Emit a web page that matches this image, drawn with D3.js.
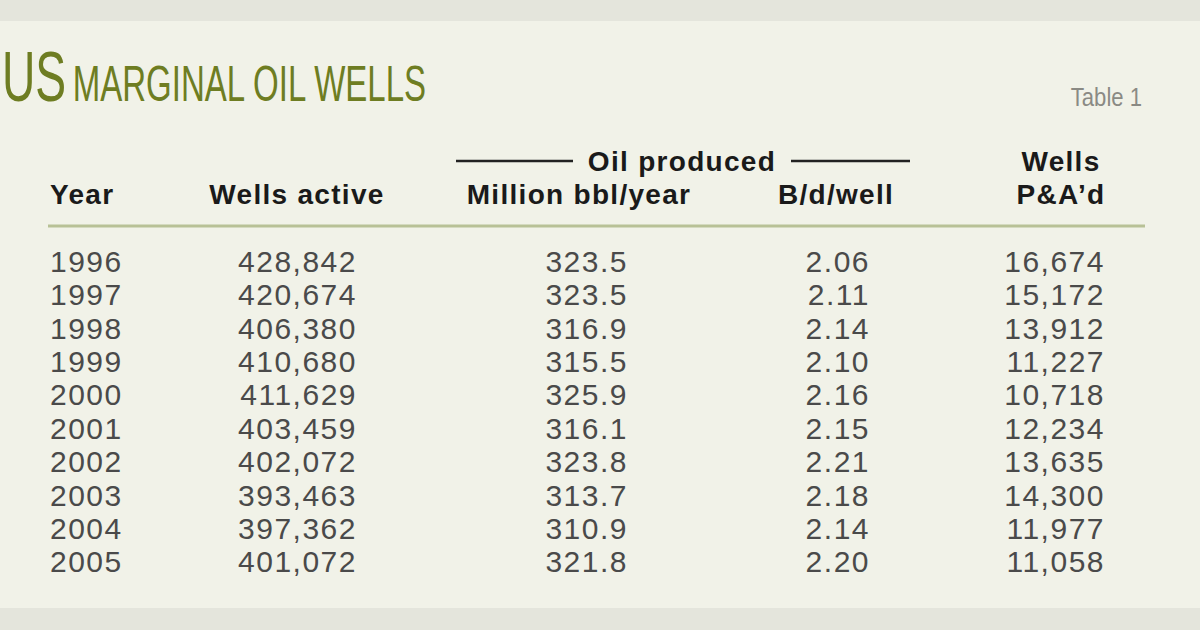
<!DOCTYPE html>
<html><head><meta charset="utf-8">
<script src="https://cdn.jsdelivr.net/npm/d3@7"></script>
<style>body{margin:0;background:#e4e5dc}</style>
</head><body>
<script>
const years = ["1996","1997","1998","1999","2000","2001","2002","2003","2004","2005"];
const wellsActive = ["428,842","420,674","406,380","410,680","411,629","403,459","402,072","393,463","397,362","401,072"];
const millionBbl = ["323.5","323.5","316.9","315.5","325.9","316.1","323.8","313.7","310.9","321.8"];
const bblPerWell = ["2.06","2.11","2.14","2.10","2.16","2.15","2.21","2.18","2.14","2.20"];
const wellsPA = ["16,674","15,172","13,912","11,227","10,718","12,234","13,635","14,300","11,977","11,058"];

const width = 1200, height = 630;
const svg = d3.select("body").append("svg")
	.attr("width", width).attr("height", height)
	.attr("font-family", "'Liberation Sans', Arial, sans-serif");

svg.append("rect").attr("width", width).attr("height", height).attr("fill", "#e4e5dc");
svg.append("rect").attr("x", 0).attr("y", 21).attr("width", width).attr("height", 587).attr("fill", "#f1f2e8");

// title
const title = svg.append("text").attr("x", 2).attr("y", 101)
	.attr("fill", "#6e7d22")
	.attr("font-family", "'Liberation Sans Narrow', 'Liberation Sans', sans-serif")
	.attr("transform", "translate(2,0) scale(0.66,1) translate(-2,0)");
title.append("tspan").attr("font-size", 70).text("US");
title.append("tspan").attr("font-size", 50).attr("dx", 10).text("MARGINAL OIL WELLS");

svg.append("text").attr("x", 1142).attr("y", 106).attr("text-anchor", "end")
	.attr("font-size", 26).attr("fill", "#8a8a84")
	.attr("font-family", "'Liberation Sans Narrow', 'Liberation Sans', sans-serif")
	.attr("transform", "translate(1142,0) scale(0.85,1) translate(-1142,0)")
	.text("Table 1");

// columns
const cols = [
	{ x: 50, anchor: "start", values: years },
	{ x: 357, anchor: "end", values: wellsActive },
	{ x: 628, anchor: "end", values: millionBbl },
	{ x: 870, anchor: "end", values: bblPerWell },
	{ x: 1105, anchor: "end", values: wellsPA },
];

// headers
const head = svg.append("g").attr("font-weight", "bold").attr("font-size", 28)
	.attr("letter-spacing", 1.3).attr("fill", "#1a1a1a");
head.append("text").attr("x", 50).attr("y", 204).text("Year");
head.append("text").attr("x", 297).attr("y", 204).attr("text-anchor", "middle").text("Wells active");
head.append("text").attr("x", 579).attr("y", 204).attr("text-anchor", "middle").text("Million bbl/year");
head.append("text").attr("x", 836).attr("y", 204).attr("text-anchor", "middle").text("B/d/well");
head.append("text").attr("x", 1061).attr("y", 171).attr("text-anchor", "middle").text("Wells");
head.append("text").attr("x", 1061).attr("y", 204).attr("text-anchor", "middle").text("P&A’d");
head.append("text").attr("x", 682).attr("y", 171).attr("text-anchor", "middle").text("Oil produced");
[[456, 573], [791, 910]].forEach(([a, b]) =>
	svg.append("line").attr("x1", a).attr("x2", b).attr("y1", 161).attr("y2", 161)
		.attr("stroke", "#222").attr("stroke-width", 2.5));

svg.append("line").attr("x1", 48).attr("x2", 1145).attr("y1", 226).attr("y2", 226)
	.attr("stroke", "#b8c196").attr("stroke-width", 3);

// body rows
const y = d3.scaleBand().domain(years).range([244, 578]);
const body = svg.append("g").attr("font-size", 30).attr("letter-spacing", 1.5).attr("fill", "#4a4a4a");
cols.forEach(c => {
	body.selectAll(null).data(c.values).join("text")
		.attr("x", c.x)
		.attr("y", (d, i) => y(years[i]) + y.bandwidth() / 2 + 11)
		.attr("text-anchor", c.anchor)
		.text(d => d);
});
</script>
</body></html>
